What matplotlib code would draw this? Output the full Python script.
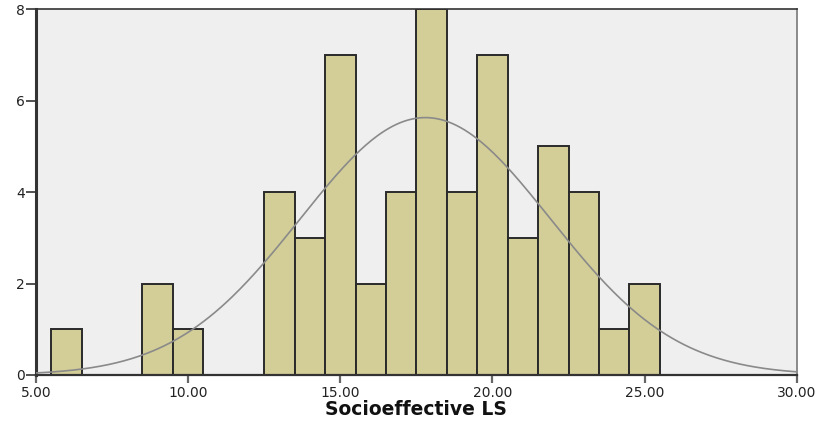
import numpy as np
import matplotlib
matplotlib.use("Agg")
import matplotlib.pyplot as plt

# Histogram of Socioeffective LS scores (bin width 1, centred on integers)
bin_centers = [6, 9, 10, 13, 14, 15, 16, 17, 18, 19, 20, 21, 22, 23, 24, 25]
counts = [1, 2, 1, 4, 3, 7, 2, 4, 8, 4, 7, 3, 5, 4, 1, 2]
x_ticks = [5, 10, 15, 20, 25, 30]
x_tick_labels = ["5.00", "10.00", "15.00", "20.00", "25.00", "30.00"]
y_ticks = [0, 2, 4, 6, 8]

centers = np.array(bin_centers, dtype=float)
freq = np.array(counts, dtype=float)
n = freq.sum()
mean = (centers * freq).sum() / n
sd = np.sqrt(((centers - mean) ** 2 * freq).sum() / (n - 1))

fig = plt.figure(figsize=(8.23, 4.23), dpi=100)
ax = fig.add_axes([0.0437, 0.1135, 0.9245, 0.865])
ax.set_facecolor("#efefef")

ax.bar(centers, freq, width=1.0, color="#d3ce97", edgecolor="#2a2a2a",
       linewidth=1.4, zorder=2)

xs = np.linspace(5, 30, 400)
curve = n * 1.0 / (sd * np.sqrt(2 * np.pi)) * np.exp(-0.5 * ((xs - mean) / sd) ** 2)
ax.plot(xs, curve, color="#8a8a8a", linewidth=1.2, zorder=3)

ax.set_xlim(5, 30)
ax.set_ylim(0, 8)
ax.set_xticks(x_ticks)
ax.set_xticklabels(x_tick_labels)
ax.set_yticks(y_ticks)

for side in ["left", "bottom", "top"]:
    ax.spines[side].set_color("#333333")
ax.spines["left"].set_linewidth(2.2)
ax.spines["bottom"].set_linewidth(1.6)
ax.spines["top"].set_linewidth(1.2)
ax.spines["right"].set_color("#8a8a8a")
ax.spines["right"].set_linewidth(1.4)

ax.tick_params(axis="x", direction="out", length=6, width=1.6, color="#666666",
               labelsize=10, pad=2, labelcolor="#222222")
ax.tick_params(axis="y", direction="out", length=7, width=1.2, color="#333333",
               labelsize=10, pad=1, labelcolor="#222222")

ax.set_xlabel("Socioeffective LS", fontsize=13.5, fontweight="bold",
              color="#111111")
ax.xaxis.set_label_coords(0.5, -0.068)

fig.savefig("out.png", dpi=100)
